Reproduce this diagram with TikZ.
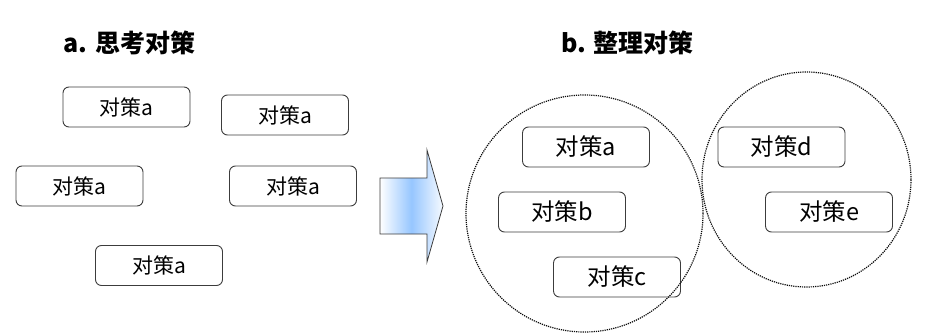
\documentclass[tikz,border=0pt]{standalone}
\usepackage{fontspec}
\setmainfont{Noto Sans CJK SC}
\usetikzlibrary{positioning}
\definecolor{boxline}{RGB}{60,60,60}
\definecolor{arrowblue}{RGB}{150,198,255}
\definecolor{dotline}{RGB}{10,10,10}

\begin{document}
\begin{tikzpicture}[x=1pt, y=-1pt,
    measure/.style={draw=boxline, line width=0.9pt, rounded corners=6pt, minimum width=127pt, minimum height=40pt, inner sep=0pt},
    group/.style={draw=dotline, line width=1.2pt, dash pattern=on 1.2pt off 1pt},
    heading/.style={font=\fontsize{25}{25}\selectfont\bfseries}]
    \useasboundingbox (0,0) rectangle (931,334);

    % Titles
    \node[heading] (ta) at (129.5,43) {a. 思考对策};
    \node[heading] (tb) at (627.5,43) {b. 整理对策};

    % Left: scattered measures
    \foreach \n/\x/\y in {1/126.5/107, 2/285/115, 3/79.5/186, 4/293/186, 5/159/265.5} {
        \node[measure, font=\fontsize{21}{21}\selectfont] (m\n) at (\x,\y) {对策a};
    }

    % Arrow
    \shadedraw[left color=white, right color=arrowblue!8, middle color=arrowblue, draw=boxline, line width=0.8pt]
        (380,178) -- (427,178) -- (427,150) -- (443,206) -- (427,262) -- (427,234) -- (380,234) -- cycle;

    % Right: sorted measures
    \foreach \n/\x/\y in {a/586/147, b/562/212, c/617/277, d/781.5/147, e/829/212} {
        \node[measure, font=\fontsize{23.5}{23.5}\selectfont] (s\n) at (\x,\y) {对策\n};
    }

    % Groups
    \coordinate (g1) at (584.5,213.5);
    \coordinate (g2) at (806.5,179.5);
    \draw[group] (g1) ellipse [x radius=118.5pt, y radius=118.5pt];
    \draw[group] (g2) ellipse [x radius=104.5pt, y radius=107.5pt];
\end{tikzpicture}
\end{document}
